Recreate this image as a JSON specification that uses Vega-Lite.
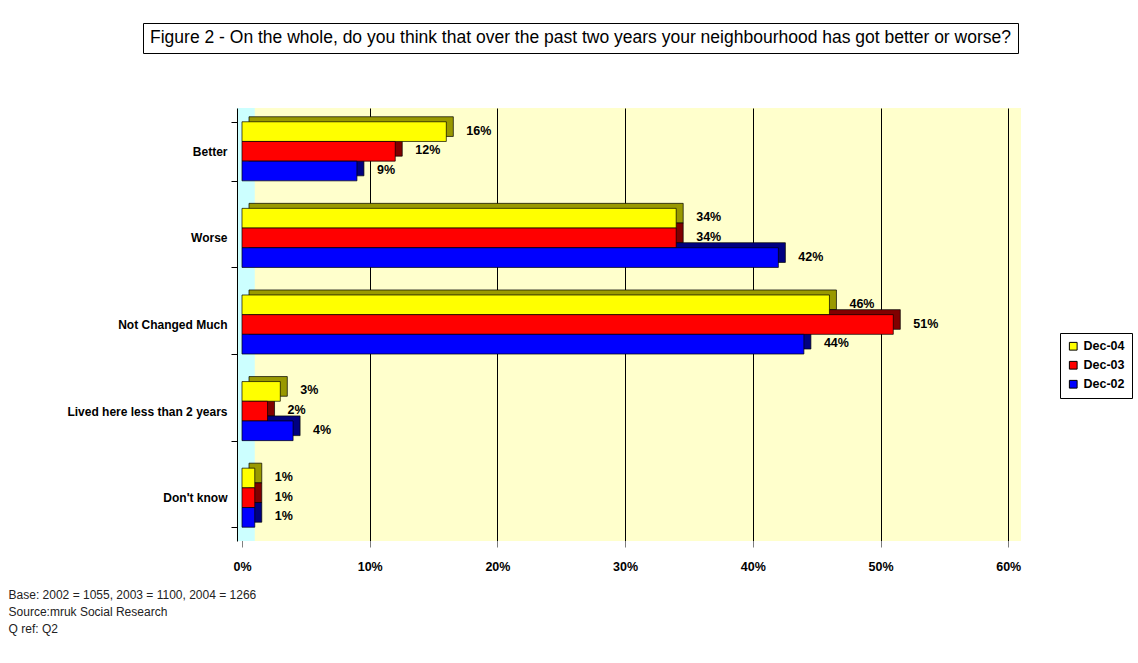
{
  "$schema": "https://vega.github.io/schema/vega-lite/v6.json",
  "background": "white",
  "padding": {"left": 8, "top": 22, "right": 4, "bottom": 4},
  "bounds": "full",
  "spacing": 48,
  "title": {
    "text": ["Base: 2002 = 1055, 2003 = 1100, 2004 = 1266", "Source:mruk Social Research", "Q ref: Q2"],
    "orient": "bottom",
    "anchor": "start",
    "frame": "bounds",
    "dx": -55,
    "offset": 17,
    "font": "Liberation Sans",
    "fontSize": 12,
    "fontWeight": "normal",
    "color": "#222222",
    "lineHeight": 17
  },
  "datasets": {
    "bars": [
      {"cat": "Better", "series": "Dec-04", "value": 16},
      {"cat": "Better", "series": "Dec-03", "value": 12},
      {"cat": "Better", "series": "Dec-02", "value": 9},
      {"cat": "Worse", "series": "Dec-04", "value": 34},
      {"cat": "Worse", "series": "Dec-03", "value": 34},
      {"cat": "Worse", "series": "Dec-02", "value": 42},
      {"cat": "Not Changed Much", "series": "Dec-04", "value": 46},
      {"cat": "Not Changed Much", "series": "Dec-03", "value": 51},
      {"cat": "Not Changed Much", "series": "Dec-02", "value": 44},
      {"cat": "Lived here less  than 2 years", "series": "Dec-04", "value": 3},
      {"cat": "Lived here less  than 2 years", "series": "Dec-03", "value": 2},
      {"cat": "Lived here less  than 2 years", "series": "Dec-02", "value": 4},
      {"cat": "Don't know", "series": "Dec-04", "value": 1},
      {"cat": "Don't know", "series": "Dec-03", "value": 1},
      {"cat": "Don't know", "series": "Dec-02", "value": 1}
    ],
    "heading": [
      {"text": "Figure 2 - On the whole, do you think that over the past two years your neighbourhood has got better or worse?"}
    ]
  },
  "vconcat": [
    {
      "data": {"name": "heading"},
      "width": 875,
      "height": 30,
      "view": {"stroke": "#000000", "strokeWidth": 1, "fill": "#ffffff"},
      "mark": {"type": "text", "font": "Liberation Sans", "fontSize": 17.5, "color": "#000000", "align": "center", "baseline": "middle"},
      "encoding": {"text": {"field": "text", "type": "nominal"}}
    },
    {
      "data": {"name": "bars"},
      "width": 878,
      "height": 433,
      "view": {"fill": "#FFFFCC", "stroke": null},
      "resolve": {"scale": {"y": "independent", "yOffset": "independent", "fill": "independent"}, "legend": {"fill": "independent"}},
      "layer": [
        {
          "data": {"values": [{"k": 1}]},
          "mark": {"type": "rect", "color": "#FFFFFF"},
          "encoding": {
            "x": {"datum": -7.752, "type": "quantitative", "scale": {"domain": [-7.752, 61], "nice": false}},
            "x2": {"datum": -0.4}
          }
        },
        {
          "data": {"values": [{"k": 1}]},
          "mark": {"type": "rect", "color": "#CCFFFF"},
          "encoding": {
            "x": {"datum": -0.4, "type": "quantitative", "scale": {"domain": [-7.752, 61], "nice": false}},
            "x2": {"datum": 1}
          }
        },
        {
          "mark": {"type": "bar", "xOffset": 7, "x2Offset": 7, "stroke": "#000000", "strokeWidth": 0.7},
          "encoding": {
            "y": {"field": "cat", "type": "nominal", "sort": ["Better", "Worse", "Not Changed Much", "Lived here less  than 2 years", "Don't know"], "scale": {"paddingInner": 0.318, "paddingOuter": 0.159, "align": 0.318}, "axis": null},
            "yOffset": {"field": "series", "type": "nominal", "sort": ["Dec-04", "Dec-03", "Dec-02"], "scale": {"paddingInner": 0, "paddingOuter": 0}},
            "x": {"field": "value", "type": "quantitative", "scale": {"domain": [-7.752, 61], "nice": false}},
            "fill": {"field": "series", "type": "nominal", "scale": {"domain": ["Dec-04", "Dec-03", "Dec-02"], "range": ["#999900", "#800000", "#000080"]}, "legend": null}
          }
        },
        {
          "transform": [{"calculate": "datum.value + '%'", "as": "label"}],
          "encoding": {
            "y": {
              "field": "cat", "type": "nominal",
              "sort": ["Better", "Worse", "Not Changed Much", "Lived here less  than 2 years", "Don't know"],
              "scale": {"paddingInner": 0.318, "paddingOuter": 0.159},
              "axis": {"title": null, "orient": "left", "offset": -94, "zindex": 1, "tickBand": "extent", "tickSize": 6, "tickColor": "#000000", "domainColor": "#000000", "domainWidth": 1, "labelPadding": 4, "labelFont": "Liberation Sans", "labelFontWeight": "bold", "labelFontSize": 12, "labelColor": "#000000", "labelLimit": 300}
            },
            "yOffset": {"field": "series", "type": "nominal", "sort": ["Dec-04", "Dec-03", "Dec-02"], "scale": {"paddingInner": 0, "paddingOuter": 0}},
            "x": {
              "field": "value", "type": "quantitative",
              "scale": {"domain": [-7.752, 61], "nice": false},
              "axis": {"title": null, "values": [0, 10, 20, 30, 40, 50, 60], "labelExpr": "datum.value + '%'", "grid": true, "gridColor": "#000000", "gridWidth": 1, "domain": false, "tickColor": "#808080", "tickSize": 6, "labelPadding": 13, "labelFont": "Liberation Sans", "labelFontWeight": "bold", "labelFontSize": 12.5, "labelColor": "#000000"}
            }
          },
          "layer": [
            {
              "mark": {"type": "bar", "stroke": "#000000", "strokeWidth": 0.7},
              "encoding": {
                "fill": {
                  "field": "series", "type": "nominal",
                  "scale": {"domain": ["Dec-04", "Dec-03", "Dec-02"], "range": ["#FFFF00", "#FF0000", "#0000FF"]},
                  "legend": {"title": null, "orient": "none", "legendX": 917, "legendY": 225, "strokeColor": "#000000", "fillColor": "#ffffff", "padding": 7, "symbolType": "square", "symbolSize": 60, "symbolStrokeColor": "#000000", "symbolStrokeWidth": 1, "labelFont": "Liberation Sans", "labelFontWeight": "bold", "labelFontSize": 12.5, "labelColor": "#000000", "rowPadding": 6}
                }
              }
            },
            {
              "mark": {"type": "text", "align": "left", "baseline": "middle", "dx": 20, "dy": -1, "font": "Liberation Sans", "fontWeight": "bold", "fontSize": 12.5, "color": "#000000"},
              "encoding": {"text": {"field": "label", "type": "nominal"}}
            }
          ]
        }
      ]
    }
  ],
  "config": {
    "view": {"stroke": null},
    "font": "Liberation Sans"
  }
}
